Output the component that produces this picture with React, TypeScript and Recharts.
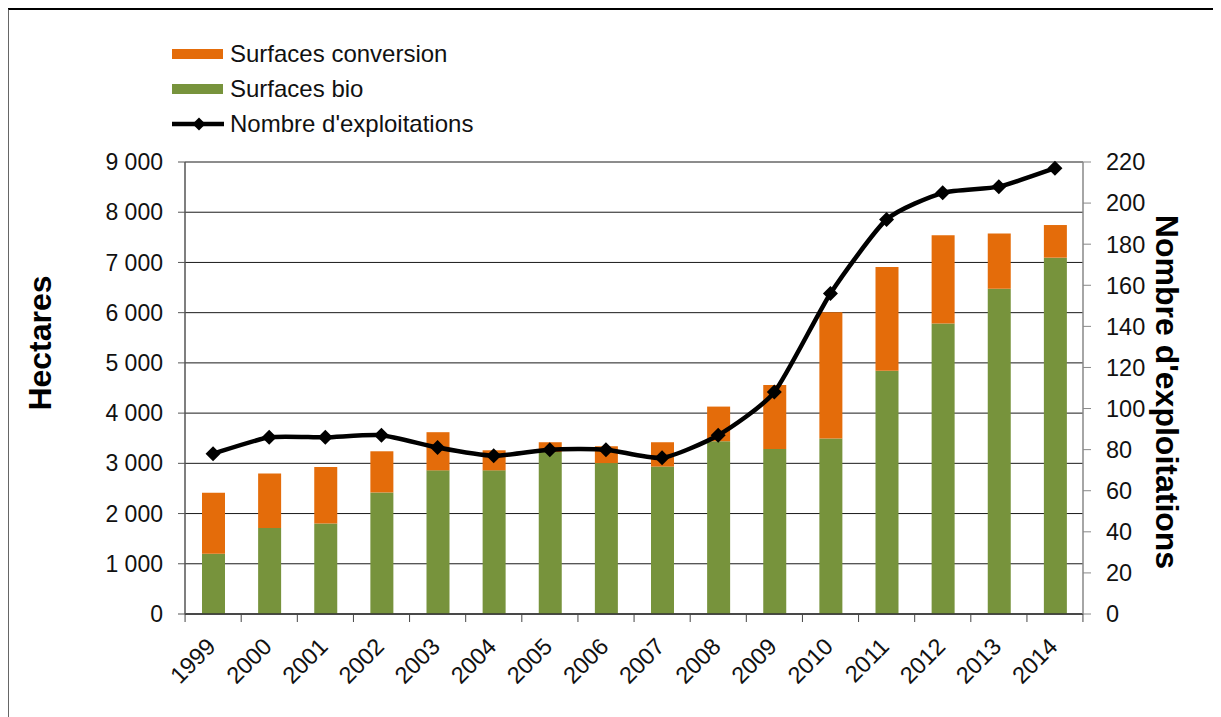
import React from 'react';
import { ComposedChart, Bar, Line, XAxis, YAxis, CartesianGrid, Legend } from 'recharts';

const years = ['1999', '2000', '2001', '2002', '2003', '2004', '2005', '2006', '2007', '2008', '2009', '2010', '2011', '2012', '2013', '2014'];
const surfacesBio = [1200, 1710, 1800, 2420, 2860, 2860, 3225, 3005, 2935, 3440, 3285, 3495, 4845, 5785, 6475, 7095];
const surfacesConversion = [1215, 1090, 1125, 820, 760, 400, 195, 335, 485, 690, 1275, 2515, 2065, 1755, 1100, 650];
const nombreExploitations = [78, 86, 86, 87, 81, 77, 80, 80, 76, 87, 108, 156, 192, 205, 208, 217];
const hectareTicks = [0, 1000, 2000, 3000, 4000, 5000, 6000, 7000, 8000, 9000];
const exploitationTicks = [0, 20, 40, 60, 80, 100, 120, 140, 160, 180, 200, 220];
const legendOrder = ['Surfaces conversion', 'Surfaces bio', "Nombre d'exploitations"];

const data = years.map((year, i) => ({
  year,
  bio: surfacesBio[i],
  conversion: surfacesConversion[i],
  exploitations: nombreExploitations[i],
}));

const GREEN = '#77933C';
const ORANGE = '#E46C0A';
const FONT = '"Liberation Sans", Arial, sans-serif';
const HALF_BAND = 28;
const SMOOTH = 0.1;

const fmtThousands = (v: number) => String(v).replace(/\B(?=(\d{3})+(?!\d))/g, ' ');

// Mildly smoothed line (Catmull-Rom style cubic Bezier, reduced tension)
const excelSmooth = (context: any) => {
  let pts: number[][] = [];
  return {
    areaStart() {},
    areaEnd() {},
    lineStart() {
      pts = [];
    },
    point(x: number, y: number) {
      pts.push([+x, +y]);
    },
    lineEnd() {
      if (!pts.length) return;
      context.moveTo(pts[0][0], pts[0][1]);
      for (let i = 0; i < pts.length - 1; i++) {
        const p0 = pts[i - 1] || pts[i];
        const p1 = pts[i];
        const p2 = pts[i + 1];
        const p3 = pts[i + 2] || p2;
        const c1x = p1[0] + (p2[0] - p0[0]) * SMOOTH;
        const c1y = p1[1] + (p2[1] - p0[1]) * SMOOTH;
        const c2x = p2[0] - (p3[0] - p1[0]) * SMOOTH;
        const c2y = p2[1] - (p3[1] - p1[1]) * SMOOTH;
        context.bezierCurveTo(c1x, c1y, c2x, c2y, p2[0], p2[1]);
      }
    },
  };
};

const Diamond = (props: any) => {
  const { cx, cy } = props;
  if (cx == null || cy == null) return null;
  const r = 7.5;
  return <polygon points={`${cx},${cy - r} ${cx + r},${cy} ${cx},${cy + r} ${cx - r},${cy}`} fill="#000" />;
};

const YearTick = (props: any) => {
  const { x, y, payload } = props;
  const isLast = payload && payload.value === years[years.length - 1];
  const tx = x + 4;
  const ty = y + 34;
  return (
    <g>
      <line x1={x - HALF_BAND} y1={y} x2={x - HALF_BAND} y2={y + 8} stroke="#444" strokeWidth={1} />
      {isLast && <line x1={x + HALF_BAND} y1={y} x2={x + HALF_BAND} y2={y + 8} stroke="#444" strokeWidth={1} />}
      <text x={tx} y={ty} transform={`rotate(-45, ${tx}, ${ty})`} textAnchor="end" fontSize={23.5} fill="#111" fontFamily={FONT}>
        {payload.value}
      </text>
    </g>
  );
};

const LegendContent = (props: any) => {
  const payload = [...(props.payload || [])].sort(
    (a: any, b: any) => legendOrder.indexOf(a.value) - legendOrder.indexOf(b.value)
  );
  return (
    <div style={{ display: 'flex', flexDirection: 'column', fontFamily: FONT }}>
      {payload.map((item: any) => {
        const isLine = item.dataKey === 'exploitations';
        return (
          <div key={item.value} style={{ display: 'flex', alignItems: 'center', height: 35 }}>
            <svg width={52} height={16} style={{ display: 'block' }}>
              {isLine ? (
                <g>
                  <line x1={0} y1={8} x2={52} y2={8} stroke="#000" strokeWidth={4.5} />
                  <polygon points="27,1.5 33.5,8 27,14.5 20.5,8" fill="#000" />
                </g>
              ) : (
                <rect x={0} y={3} width={51} height={10} fill={item.color} />
              )}
            </svg>
            <span style={{ marginLeft: 6, fontSize: 24, color: '#111', lineHeight: '24px' }}>{item.value}</span>
          </div>
        );
      })}
    </div>
  );
};

const LeftTitle = (props: any) => {
  const vb = props.viewBox || { x: 0, y: 152, width: 176, height: 452 };
  const x = vb.x + 31;
  const y = vb.y + vb.height / 2 - 45;
  return (
    <text x={x} y={y} transform={`rotate(-90, ${x}, ${y})`} textAnchor="middle" dominantBaseline="central" fontSize={32} fontWeight="bold" fill="#000" fontFamily={FONT}>
      Hectares
    </text>
  );
};

const RightTitle = (props: any) => {
  const vb = props.viewBox || { x: 1074, y: 152, width: 138, height: 452 };
  const x = vb.x + 84;
  const y = vb.y + vb.height / 2 + 4;
  return (
    <text x={x} y={y} transform={`rotate(90, ${x}, ${y})`} textAnchor="middle" dominantBaseline="central" fontSize={32} fontWeight="bold" fill="#000" fontFamily={FONT}>
      Nombre d'exploitations
    </text>
  );
};

export default function App() {
  return (
    <div
      style={{
        marginLeft: -1,
        width: 1212,
        height: 707,
        borderTop: '2px solid #000',
        borderLeft: '2px solid #666',
        fontFamily: FONT,
        background: '#fff',
      }}
    >
      <ComposedChart width={1212} height={707} data={data} margin={{ top: 152, right: 0, bottom: 0, left: 0 }} barCategoryGap={0}>
        <CartesianGrid yAxisId="left" vertical={false} stroke="#1a1a1a" strokeWidth={1} />
        <XAxis
          dataKey="year"
          height={103}
          tick={<YearTick />}
          tickLine={false}
          tickSize={0}
          tickMargin={0}
          interval={0}
          axisLine={{ stroke: '#333', strokeWidth: 1.5 }}
        />
        <YAxis
          yAxisId="left"
          orientation="left"
          width={176}
          domain={[0, 9000]}
          ticks={hectareTicks}
          tickFormatter={fmtThousands}
          tick={{ fontSize: 23, fill: '#111', fontFamily: FONT }}
          tickSize={7}
          tickMargin={15}
          tickLine={{ stroke: '#555' }}
          axisLine={{ stroke: '#555', strokeWidth: 1.5 }}
          interval={0}
          label={(p: any) => <LeftTitle {...p} />}
        />
        <YAxis
          yAxisId="right"
          orientation="right"
          width={138}
          domain={[0, 220]}
          ticks={exploitationTicks}
          tick={{ fontSize: 23.5, fill: '#111', fontFamily: FONT, textAnchor: 'start' }}
          tickSize={8}
          tickMargin={15}
          tickLine={{ stroke: '#888' }}
          axisLine={{ stroke: '#888', strokeWidth: 1.5 }}
          interval={0}
          label={(p: any) => <RightTitle {...p} />}
        />
        <Legend
          layout="vertical"
          align="center"
          verticalAlign="middle"
          content={<LegendContent />}
          wrapperStyle={{ left: 163, top: 26, width: 380, height: 110 }}
        />
        <Bar yAxisId="left" dataKey="bio" name="Surfaces bio" stackId="s" fill={GREEN} barSize={23} isAnimationActive={false} />
        <Bar yAxisId="left" dataKey="conversion" name="Surfaces conversion" stackId="s" fill={ORANGE} barSize={23} isAnimationActive={false} />
        <Line
          yAxisId="right"
          dataKey="exploitations"
          name="Nombre d'exploitations"
          type={excelSmooth as any}
          stroke="#000"
          strokeWidth={4.5}
          dot={(p: any) => <Diamond key={`d-${p.index}`} {...p} />}
          activeDot={false}
          legendType="line"
          isAnimationActive={false}
        />
      </ComposedChart>
    </div>
  );
}
